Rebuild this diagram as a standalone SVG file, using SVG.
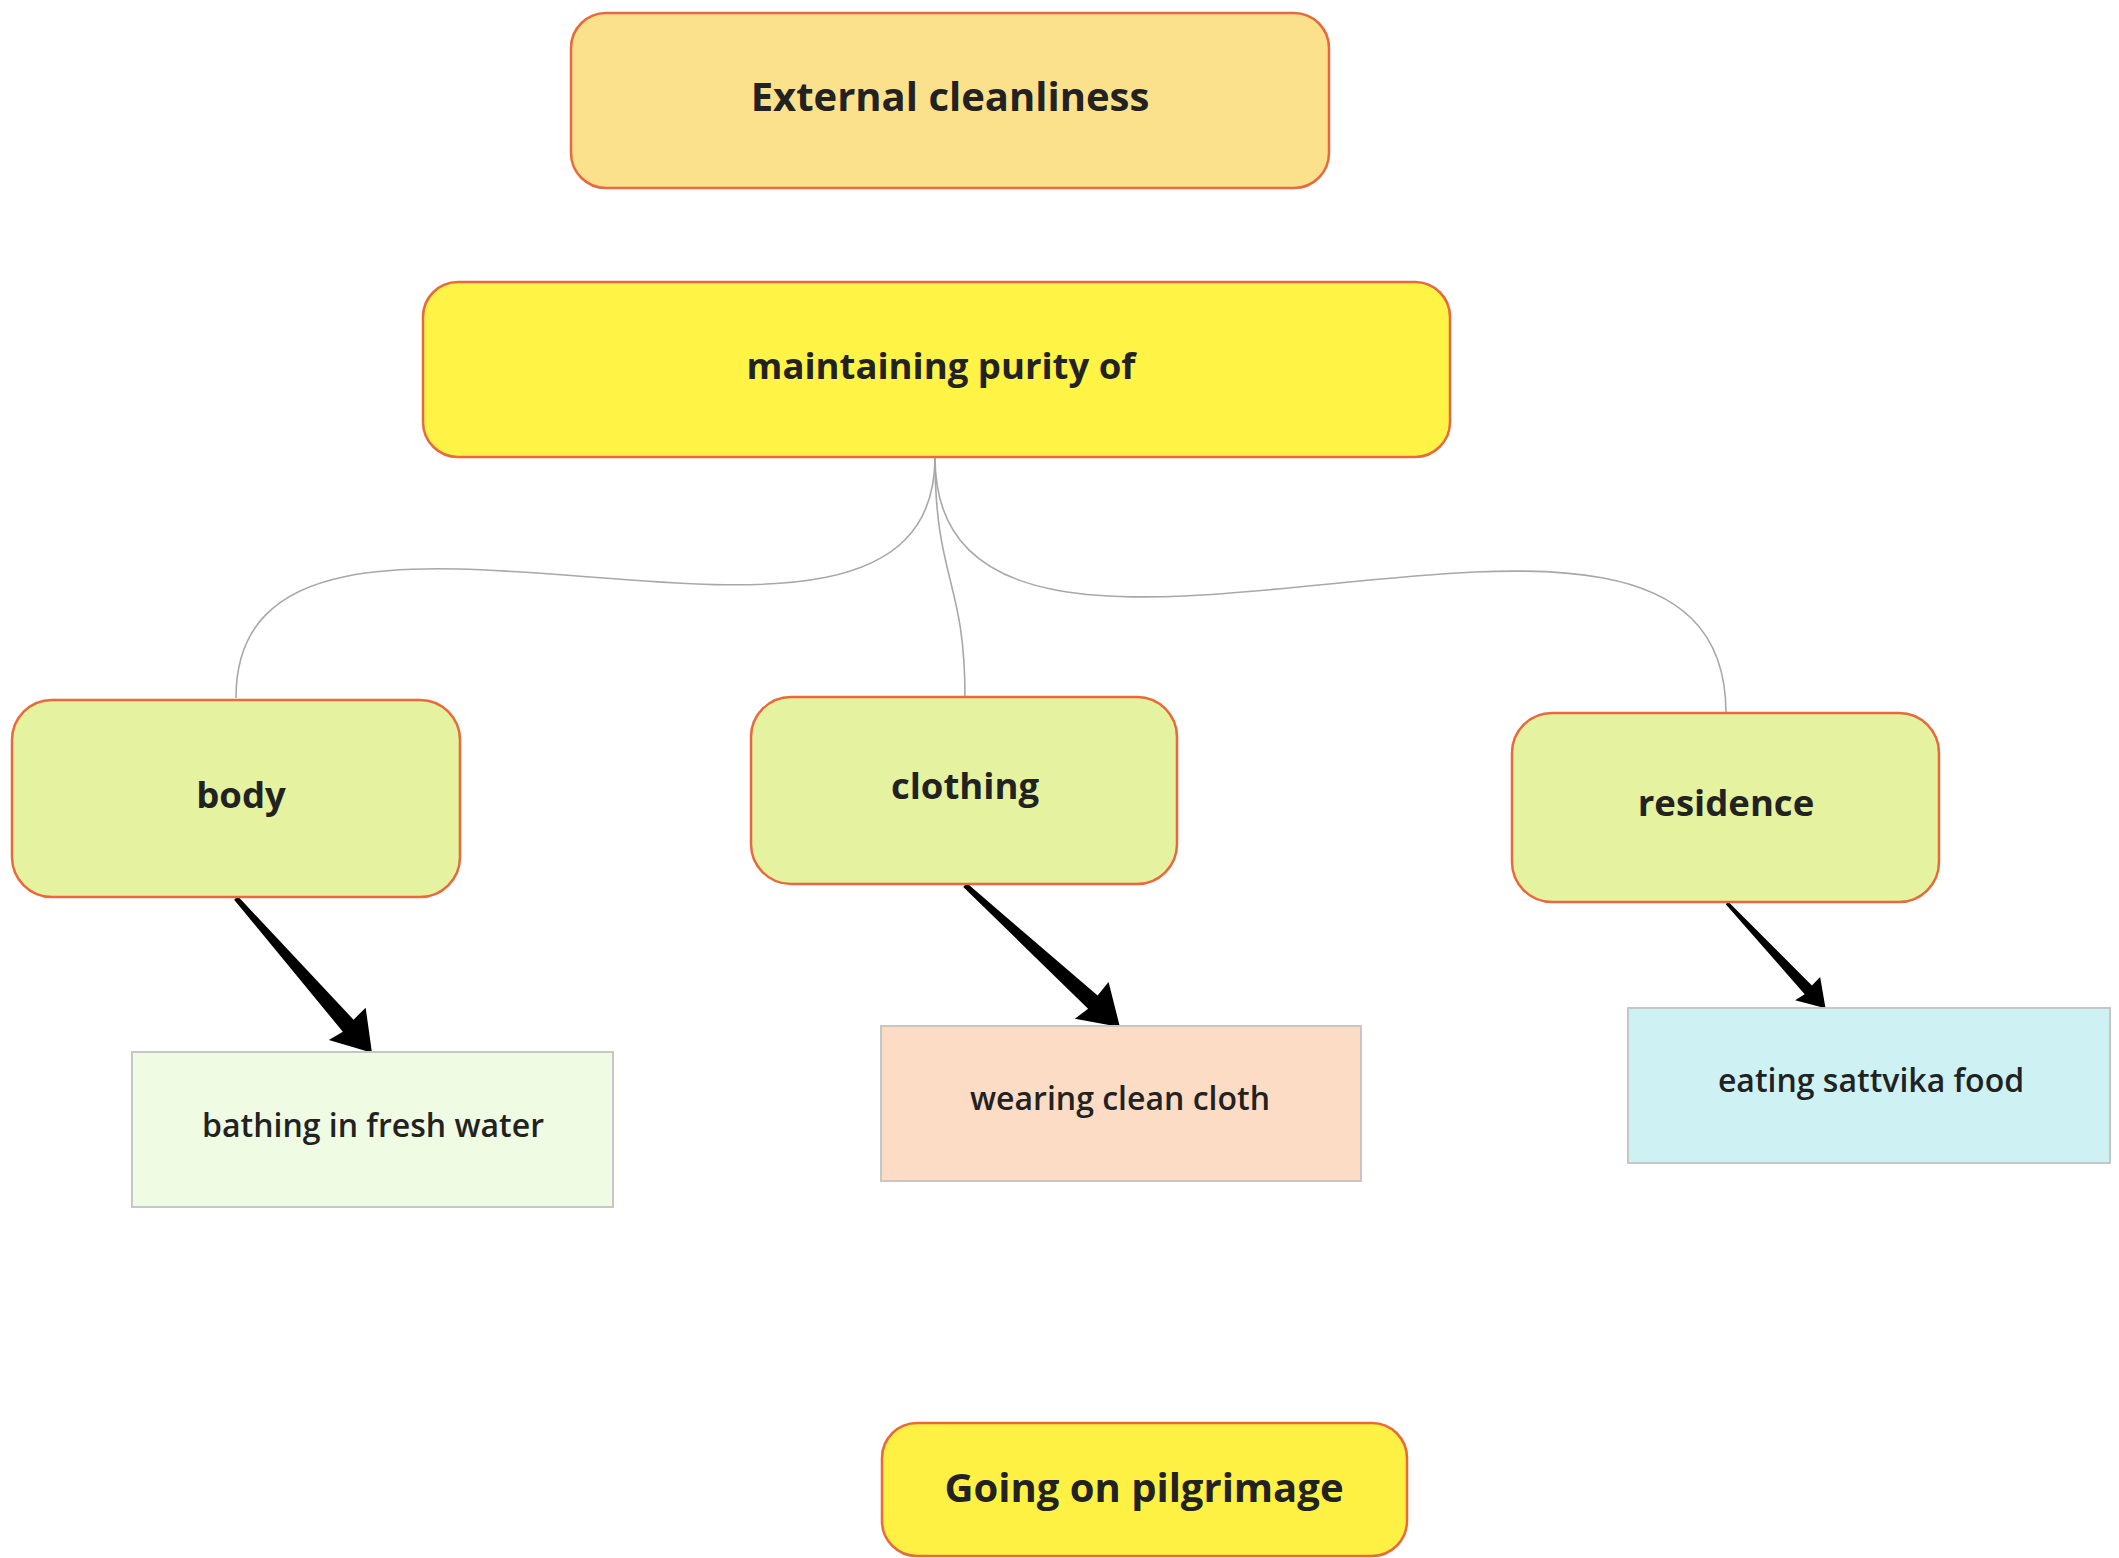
<svg xmlns="http://www.w3.org/2000/svg" xmlns:xlink="http://www.w3.org/1999/xlink" width="2119" height="1558" viewBox="0 0 2119 1558">
<style>
.rnd{stroke:#E8693C;stroke-width:2.5}
.leaf{stroke:#C6C6C6;stroke-width:2}
.t{font-family:"Open Sans","Noto Sans","Liberation Sans",sans-serif;fill:#222;text-anchor:middle}
.big{font-size:40px;font-weight:700}
.mid{font-size:36.5px;font-weight:700}
.sm{font-size:32px;font-weight:600}
.link{fill:none;stroke:#A8A8A8;stroke-width:1.6}
.arr{fill:#000}
</style>
<defs>
<path id="arrow" d="M0,-2.5 L169,-8 L168,-25 L206,0 L168,24 L171,8 L0,2.5 Z"/>
</defs>
<rect width="2119" height="1558" fill="#FFFFFF"/>
<g id="connectors">
<path class="link" d="M935,457 C935,752 236,401 236,698"/>
<path class="link" d="M935,457 C935,580 965,580 965,697"/>
<path class="link" d="M935,457 C935,791 1726,376 1726,713"/>
<use href="#arrow" class="arr" transform="translate(236,898) rotate(48.7) scale(1)"/>
<use href="#arrow" class="arr" transform="translate(965,885) rotate(42.5) scale(1.02)"/>
<use href="#arrow" class="arr" transform="translate(1727,903) rotate(46.9) scale(0.7)"/>
</g>
<g id="external">
<rect class="rnd" x="571" y="13" width="758" height="175" rx="35" fill="#FBE18B"/>
<text class="t big" x="950" y="111">External cleanliness</text>
</g>
<g id="maintaining">
<rect class="rnd" x="423" y="282" width="1027" height="175" rx="35" fill="#FFF346"/>
<text class="t mid" x="941" y="379">maintaining purity of</text>
</g>
<g id="body">
<rect class="rnd" x="12" y="700" width="448" height="197" rx="40" fill="#E5F29F"/>
<text class="t mid" x="241" y="808">body</text>
</g>
<g id="clothing">
<rect class="rnd" x="751" y="697" width="426" height="187" rx="40" fill="#E5F29F"/>
<text class="t mid" x="965" y="799">clothing</text>
</g>
<g id="residence">
<rect class="rnd" x="1512" y="713" width="427" height="189" rx="40" fill="#E5F29F"/>
<text class="t mid" x="1726" y="816">residence</text>
</g>
<g id="bathing">
<rect class="leaf" x="132" y="1052" width="481" height="155" fill="#F0FBE4"/>
<text class="t sm" x="373" y="1137">bathing in fresh water</text>
</g>
<g id="wearing">
<rect class="leaf" x="881" y="1026" width="480" height="155" fill="#FDDCC5"/>
<text class="t sm" x="1120" y="1110">wearing clean cloth</text>
</g>
<g id="eating">
<rect class="leaf" x="1628" y="1008" width="482" height="155" fill="#CEF2F4"/>
<text class="t sm" x="1871" y="1092">eating sattvika food</text>
</g>
<g id="pilgrimage">
<rect class="rnd" x="882" y="1423" width="525" height="133" rx="35" fill="#FFF143"/>
<text class="t big" x="1144" y="1502">Going on pilgrimage</text>
</g>
</svg>
